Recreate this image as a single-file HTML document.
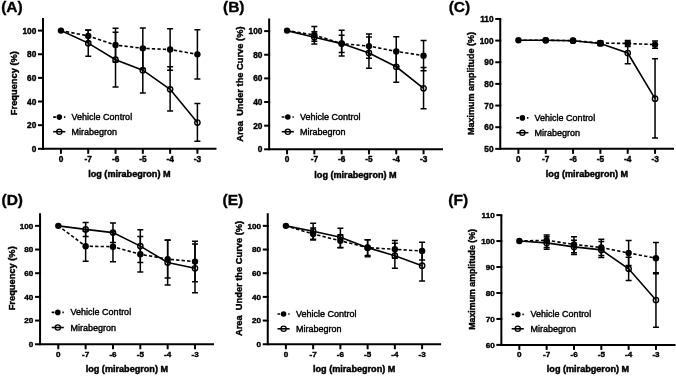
<!DOCTYPE html>
<html><head><meta charset="utf-8"><style>
html,body{margin:0;padding:0;background:#fff;}
svg{display:block;will-change:transform;}
text{font-family:"Liberation Sans", sans-serif;fill:#000;stroke:#000;stroke-width:0.3px;}
text.b{stroke-width:0.15px;}
</style></head><body>
<svg width="676" height="377" viewBox="0 0 676 377">
<rect width="676" height="377" fill="#fff"/>
<path d="M43 18.1V148.8H216.5" fill="none" stroke="#000" stroke-width="2.0" stroke-linecap="butt" stroke-linejoin="miter"/>
<path d="M38 148.8H44" stroke="#000" stroke-width="2.0"/>
<text x="36.3" y="151.79" font-size="8.3" font-weight="bold" text-anchor="end" style="stroke-width:0.4px">0</text>
<path d="M38 125.16H44" stroke="#000" stroke-width="2.0"/>
<text x="36.3" y="128.15" font-size="8.3" font-weight="bold" text-anchor="end" style="stroke-width:0.4px">20</text>
<path d="M38 101.52H44" stroke="#000" stroke-width="2.0"/>
<text x="36.3" y="104.51" font-size="8.3" font-weight="bold" text-anchor="end" style="stroke-width:0.4px">40</text>
<path d="M38 77.88H44" stroke="#000" stroke-width="2.0"/>
<text x="36.3" y="80.87" font-size="8.3" font-weight="bold" text-anchor="end" style="stroke-width:0.4px">60</text>
<path d="M38 54.24H44" stroke="#000" stroke-width="2.0"/>
<text x="36.3" y="57.23" font-size="8.3" font-weight="bold" text-anchor="end" style="stroke-width:0.4px">80</text>
<path d="M38 30.6H44" stroke="#000" stroke-width="2.0"/>
<text x="36.3" y="33.59" font-size="8.3" font-weight="bold" text-anchor="end" style="stroke-width:0.4px">100</text>
<path d="M60.95 148.8V153.8" stroke="#000" stroke-width="2.0"/>
<text x="60.95" y="162.3" font-size="8.3" font-weight="bold" text-anchor="middle" style="stroke-width:0.4px">0</text>
<path d="M88.24 148.8V153.8" stroke="#000" stroke-width="2.0"/>
<text x="88.29" y="162.3" font-size="8.3" font-weight="bold" text-anchor="middle" style="stroke-width:0.4px">-7</text>
<path d="M115.53 148.8V153.8" stroke="#000" stroke-width="2.0"/>
<text x="115.58" y="162.3" font-size="8.3" font-weight="bold" text-anchor="middle" style="stroke-width:0.4px">-6</text>
<path d="M142.82 148.8V153.8" stroke="#000" stroke-width="2.0"/>
<text x="142.87" y="162.3" font-size="8.3" font-weight="bold" text-anchor="middle" style="stroke-width:0.4px">-5</text>
<path d="M170.11 148.8V153.8" stroke="#000" stroke-width="2.0"/>
<text x="170.16" y="162.3" font-size="8.3" font-weight="bold" text-anchor="middle" style="stroke-width:0.4px">-4</text>
<path d="M197.4 148.8V153.8" stroke="#000" stroke-width="2.0"/>
<text x="197.45" y="162.3" font-size="8.3" font-weight="bold" text-anchor="middle" style="stroke-width:0.4px">-3</text>
<text x="88.2" y="177.1" font-size="9.1" font-weight="bold" style="stroke-width:0.45px">log (mirabegron) M</text>
<text transform="translate(16.9 83.1) rotate(-90)" x="0" y="0" font-size="9.3" font-weight="bold" text-anchor="middle" style="white-space:pre;stroke-width:0.4px">Frequency (%)</text>
<text x="1.2" y="11.5" font-size="15.5" font-weight="bold" style="stroke-width:0.35px">(A)</text>
<path d="M53.2 117.1H65.3" stroke="#000" stroke-width="1.6" stroke-dasharray="2.7 2.65"/>
<circle cx="59.3" cy="117.1" r="2.8" fill="#000"/>
<path d="M53.2 131.7H65.3" stroke="#000" stroke-width="1.6"/>
<circle cx="59.3" cy="131.7" r="2.6" fill="none" stroke="#000" stroke-width="1.3"/>
<text x="71.6" y="120.1" font-size="9" style="stroke-width:0.4px">Vehicle Control</text>
<text x="71.6" y="134.7" font-size="9" style="stroke-width:0.4px">Mirabegron</text>
<path d="M88.24 30.13V41.71M85.24 30.13H91.24M85.24 41.71H91.24" stroke="#000" stroke-width="1.5" fill="none"/>
<path d="M115.53 28.24V62.04M112.53 28.24H118.53M112.53 62.04H118.53" stroke="#000" stroke-width="1.5" fill="none"/>
<path d="M142.82 27.88V68.78M139.82 27.88H145.82M139.82 68.78H145.82" stroke="#000" stroke-width="1.5" fill="none"/>
<path d="M170.11 28.83V70.2M167.11 28.83H173.11M167.11 70.2H173.11" stroke="#000" stroke-width="1.5" fill="none"/>
<path d="M197.4 29.65V79.06M194.4 29.65H200.4M194.4 79.06H200.4" stroke="#000" stroke-width="1.5" fill="none"/>
<path d="M88.24 29.89V56.37M85.24 29.89H91.24M85.24 56.37H91.24" stroke="#000" stroke-width="1.5" fill="none"/>
<path d="M115.53 32.37V86.98M112.53 32.37H118.53M112.53 86.98H118.53" stroke="#000" stroke-width="1.5" fill="none"/>
<path d="M142.82 47.5V92.89M139.82 47.5H145.82M139.82 92.89H145.82" stroke="#000" stroke-width="1.5" fill="none"/>
<path d="M170.11 66.65V110.98M167.11 66.65H173.11M167.11 110.98H173.11" stroke="#000" stroke-width="1.5" fill="none"/>
<path d="M197.4 103.53V141.35M194.4 103.53H200.4M194.4 141.35H200.4" stroke="#000" stroke-width="1.5" fill="none"/>
<polyline points="60.95,30.6 88.24,35.92 115.53,45.02 142.82,48.33 170.11,49.51 197.4,54.36" fill="none" stroke="#000" stroke-width="1.6" stroke-dasharray="3.3 2.2" stroke-dashoffset="0.4"/>
<polyline points="60.95,30.6 88.24,43.13 115.53,59.68 142.82,70.2 170.11,89.35 197.4,122.56" fill="none" stroke="#000" stroke-width="1.6"/>
<circle cx="60.95" cy="30.6" r="3.2" fill="#000"/>
<circle cx="88.24" cy="35.92" r="3.2" fill="#000"/>
<circle cx="115.53" cy="45.02" r="3.2" fill="#000"/>
<circle cx="142.82" cy="48.33" r="3.2" fill="#000"/>
<circle cx="170.11" cy="49.51" r="3.2" fill="#000"/>
<circle cx="197.4" cy="54.36" r="3.2" fill="#000"/>
<circle cx="88.24" cy="43.13" r="2.6500000000000004" fill="none" stroke="#000" stroke-width="1.4"/>
<circle cx="115.53" cy="59.68" r="2.6500000000000004" fill="none" stroke="#000" stroke-width="1.4"/>
<circle cx="142.82" cy="70.2" r="2.6500000000000004" fill="none" stroke="#000" stroke-width="1.4"/>
<circle cx="170.11" cy="89.35" r="2.6500000000000004" fill="none" stroke="#000" stroke-width="1.4"/>
<circle cx="197.4" cy="122.56" r="2.6500000000000004" fill="none" stroke="#000" stroke-width="1.4"/>
<path d="M269.15 18.5V149.3H443" fill="none" stroke="#000" stroke-width="2.0" stroke-linecap="butt" stroke-linejoin="miter"/>
<path d="M264.15 149.3H270.15" stroke="#000" stroke-width="2.0"/>
<text x="262.45" y="152.29" font-size="8.3" font-weight="bold" text-anchor="end" style="stroke-width:0.4px">0</text>
<path d="M264.15 125.66H270.15" stroke="#000" stroke-width="2.0"/>
<text x="262.45" y="128.65" font-size="8.3" font-weight="bold" text-anchor="end" style="stroke-width:0.4px">20</text>
<path d="M264.15 102.02H270.15" stroke="#000" stroke-width="2.0"/>
<text x="262.45" y="105.01" font-size="8.3" font-weight="bold" text-anchor="end" style="stroke-width:0.4px">40</text>
<path d="M264.15 78.38H270.15" stroke="#000" stroke-width="2.0"/>
<text x="262.45" y="81.37" font-size="8.3" font-weight="bold" text-anchor="end" style="stroke-width:0.4px">60</text>
<path d="M264.15 54.74H270.15" stroke="#000" stroke-width="2.0"/>
<text x="262.45" y="57.73" font-size="8.3" font-weight="bold" text-anchor="end" style="stroke-width:0.4px">80</text>
<path d="M264.15 31.1H270.15" stroke="#000" stroke-width="2.0"/>
<text x="262.45" y="34.09" font-size="8.3" font-weight="bold" text-anchor="end" style="stroke-width:0.4px">100</text>
<path d="M287.05 149.3V154.3" stroke="#000" stroke-width="2.0"/>
<text x="287.05" y="162.3" font-size="8.3" font-weight="bold" text-anchor="middle" style="stroke-width:0.4px">0</text>
<path d="M314.35 149.3V154.3" stroke="#000" stroke-width="2.0"/>
<text x="314.4" y="162.3" font-size="8.3" font-weight="bold" text-anchor="middle" style="stroke-width:0.4px">-7</text>
<path d="M341.65 149.3V154.3" stroke="#000" stroke-width="2.0"/>
<text x="341.7" y="162.3" font-size="8.3" font-weight="bold" text-anchor="middle" style="stroke-width:0.4px">-6</text>
<path d="M368.95 149.3V154.3" stroke="#000" stroke-width="2.0"/>
<text x="369" y="162.3" font-size="8.3" font-weight="bold" text-anchor="middle" style="stroke-width:0.4px">-5</text>
<path d="M396.25 149.3V154.3" stroke="#000" stroke-width="2.0"/>
<text x="396.3" y="162.3" font-size="8.3" font-weight="bold" text-anchor="middle" style="stroke-width:0.4px">-4</text>
<path d="M423.55 149.3V154.3" stroke="#000" stroke-width="2.0"/>
<text x="423.6" y="162.3" font-size="8.3" font-weight="bold" text-anchor="middle" style="stroke-width:0.4px">-3</text>
<text x="314.3" y="177.9" font-size="9.1" font-weight="bold" style="stroke-width:0.45px">log (mirabegron) M</text>
<text transform="translate(243.3 84.1) rotate(-90)" x="0" y="0" font-size="9.3" font-weight="bold" text-anchor="middle" style="white-space:pre;stroke-width:0.4px">Area  Under the Curve (%)</text>
<text x="223" y="11.5" font-size="15.5" font-weight="bold" style="stroke-width:0.35px">(B)</text>
<path d="M281.7 117H293.8" stroke="#000" stroke-width="1.6" stroke-dasharray="2.7 2.65"/>
<circle cx="287.8" cy="117" r="2.8" fill="#000"/>
<path d="M281.7 131.7H293.8" stroke="#000" stroke-width="1.6"/>
<circle cx="287.8" cy="131.7" r="2.6" fill="none" stroke="#000" stroke-width="1.3"/>
<text x="299.9" y="120" font-size="9" style="stroke-width:0.4px">Vehicle Control</text>
<text x="299.9" y="134.7" font-size="9" style="stroke-width:0.4px">Mirabegron</text>
<path d="M314.35 26.46V43.96M311.35 26.46H317.35M311.35 43.96H317.35" stroke="#000" stroke-width="1.5" fill="none"/>
<path d="M341.65 30.25V56.01M338.65 30.25H344.65M338.65 56.01H344.65" stroke="#000" stroke-width="1.5" fill="none"/>
<path d="M368.95 33.91V58.26M365.95 33.91H371.95M365.95 58.26H371.95" stroke="#000" stroke-width="1.5" fill="none"/>
<path d="M396.25 36.63V66.18M393.25 36.63H399.25M393.25 66.18H399.25" stroke="#000" stroke-width="1.5" fill="none"/>
<path d="M423.55 40.53V70.79M420.55 40.53H426.55M420.55 70.79H426.55" stroke="#000" stroke-width="1.5" fill="none"/>
<path d="M314.35 31.78V41.24M311.35 31.78H317.35M311.35 41.24H317.35" stroke="#000" stroke-width="1.5" fill="none"/>
<path d="M341.65 35.33V52.47M338.65 35.33H344.65M338.65 52.47H344.65" stroke="#000" stroke-width="1.5" fill="none"/>
<path d="M368.95 37.1V68.19M365.95 37.1H371.95M365.95 68.19H371.95" stroke="#000" stroke-width="1.5" fill="none"/>
<path d="M396.25 51.4V82.25M393.25 51.4H399.25M393.25 82.25H399.25" stroke="#000" stroke-width="1.5" fill="none"/>
<path d="M423.55 67.48V108.85M420.55 67.48H426.55M420.55 108.85H426.55" stroke="#000" stroke-width="1.5" fill="none"/>
<polyline points="287.05,30.6 314.35,34.97 341.65,43.6 368.95,46.08 396.25,51.4 423.55,55.66" fill="none" stroke="#000" stroke-width="1.6" stroke-dasharray="3.3 2.2" stroke-dashoffset="0.4"/>
<polyline points="287.05,30.6 314.35,37.34 341.65,43.6 368.95,52.94 396.25,66.77 423.55,88.28" fill="none" stroke="#000" stroke-width="1.6"/>
<circle cx="287.05" cy="30.6" r="3.2" fill="#000"/>
<circle cx="314.35" cy="34.97" r="3.2" fill="#000"/>
<circle cx="341.65" cy="43.6" r="3.2" fill="#000"/>
<circle cx="368.95" cy="46.08" r="3.2" fill="#000"/>
<circle cx="396.25" cy="51.4" r="3.2" fill="#000"/>
<circle cx="423.55" cy="55.66" r="3.2" fill="#000"/>
<circle cx="314.35" cy="37.34" r="2.6500000000000004" fill="none" stroke="#000" stroke-width="1.4"/>
<circle cx="341.65" cy="43.6" r="2.6500000000000004" fill="none" stroke="#000" stroke-width="1.4"/>
<circle cx="368.95" cy="52.94" r="2.6500000000000004" fill="none" stroke="#000" stroke-width="1.4"/>
<circle cx="396.25" cy="66.77" r="2.6500000000000004" fill="none" stroke="#000" stroke-width="1.4"/>
<circle cx="423.55" cy="88.28" r="2.6500000000000004" fill="none" stroke="#000" stroke-width="1.4"/>
<path d="M500.25 18.95V148.85H674" fill="none" stroke="#000" stroke-width="2.0" stroke-linecap="butt" stroke-linejoin="miter"/>
<path d="M495.25 148.85H501.25" stroke="#000" stroke-width="2.0"/>
<text x="493.55" y="151.84" font-size="8.3" font-weight="bold" text-anchor="end" style="stroke-width:0.4px">50</text>
<path d="M495.25 127.2H501.25" stroke="#000" stroke-width="2.0"/>
<text x="493.55" y="130.19" font-size="8.3" font-weight="bold" text-anchor="end" style="stroke-width:0.4px">60</text>
<path d="M495.25 105.55H501.25" stroke="#000" stroke-width="2.0"/>
<text x="493.55" y="108.54" font-size="8.3" font-weight="bold" text-anchor="end" style="stroke-width:0.4px">70</text>
<path d="M495.25 83.9H501.25" stroke="#000" stroke-width="2.0"/>
<text x="493.55" y="86.89" font-size="8.3" font-weight="bold" text-anchor="end" style="stroke-width:0.4px">80</text>
<path d="M495.25 62.25H501.25" stroke="#000" stroke-width="2.0"/>
<text x="493.55" y="65.24" font-size="8.3" font-weight="bold" text-anchor="end" style="stroke-width:0.4px">90</text>
<path d="M495.25 40.6H501.25" stroke="#000" stroke-width="2.0"/>
<text x="493.55" y="43.59" font-size="8.3" font-weight="bold" text-anchor="end" style="stroke-width:0.4px">100</text>
<path d="M495.25 18.95H501.25" stroke="#000" stroke-width="2.0"/>
<text x="493.55" y="21.94" font-size="8.3" font-weight="bold" text-anchor="end" style="stroke-width:0.4px">110</text>
<path d="M518.4 148.85V153.85" stroke="#000" stroke-width="2.0"/>
<text x="518.4" y="162.3" font-size="8.3" font-weight="bold" text-anchor="middle" style="stroke-width:0.4px">0</text>
<path d="M545.73 148.85V153.85" stroke="#000" stroke-width="2.0"/>
<text x="545.78" y="162.3" font-size="8.3" font-weight="bold" text-anchor="middle" style="stroke-width:0.4px">-7</text>
<path d="M573.06 148.85V153.85" stroke="#000" stroke-width="2.0"/>
<text x="573.11" y="162.3" font-size="8.3" font-weight="bold" text-anchor="middle" style="stroke-width:0.4px">-6</text>
<path d="M600.39 148.85V153.85" stroke="#000" stroke-width="2.0"/>
<text x="600.44" y="162.3" font-size="8.3" font-weight="bold" text-anchor="middle" style="stroke-width:0.4px">-5</text>
<path d="M627.72 148.85V153.85" stroke="#000" stroke-width="2.0"/>
<text x="627.77" y="162.3" font-size="8.3" font-weight="bold" text-anchor="middle" style="stroke-width:0.4px">-4</text>
<path d="M655.05 148.85V153.85" stroke="#000" stroke-width="2.0"/>
<text x="655.1" y="162.3" font-size="8.3" font-weight="bold" text-anchor="middle" style="stroke-width:0.4px">-3</text>
<text x="545.8" y="177.1" font-size="9.1" font-weight="bold" style="stroke-width:0.45px">log (mirabegron) M</text>
<text transform="translate(474.4 83.5) rotate(-90)" x="0" y="0" font-size="9.0" font-weight="bold" text-anchor="middle" style="white-space:pre;stroke-width:0.4px">Maximum amplitude (%)</text>
<text x="448.7" y="11.5" font-size="15.5" font-weight="bold" style="stroke-width:0.35px">(C)</text>
<path d="M516.3 117.9H528.4" stroke="#000" stroke-width="1.6" stroke-dasharray="2.7 2.65"/>
<circle cx="522.4" cy="117.9" r="2.8" fill="#000"/>
<path d="M516.3 132.7H528.4" stroke="#000" stroke-width="1.6"/>
<circle cx="522.4" cy="132.7" r="2.6" fill="none" stroke="#000" stroke-width="1.3"/>
<text x="534.6" y="120.9" font-size="9" style="stroke-width:0.4px">Vehicle Control</text>
<text x="534.6" y="135.7" font-size="9" style="stroke-width:0.4px">Mirabegron</text>
<path d="M600.39 41.12V45.01M597.39 41.12H603.39M597.39 45.01H603.39" stroke="#000" stroke-width="1.5" fill="none"/>
<path d="M627.72 40.47V46.53M624.72 40.47H630.72M624.72 46.53H630.72" stroke="#000" stroke-width="1.5" fill="none"/>
<path d="M655.05 40.9V48.26M652.05 40.9H658.05M652.05 48.26H658.05" stroke="#000" stroke-width="1.5" fill="none"/>
<path d="M600.39 41.55V45.45M597.39 41.55H603.39M597.39 45.45H603.39" stroke="#000" stroke-width="1.5" fill="none"/>
<path d="M627.72 42.41V63.63M624.72 42.41H630.72M624.72 63.63H630.72" stroke="#000" stroke-width="1.5" fill="none"/>
<path d="M655.05 58.87V138.11M652.05 58.87H658.05M652.05 138.11H658.05" stroke="#000" stroke-width="1.5" fill="none"/>
<polyline points="518.4,40.25 545.73,40.25 573.06,40.68 600.39,43.06 627.72,43.5 655.05,44.58" fill="none" stroke="#000" stroke-width="1.6" stroke-dasharray="3.3 2.2" stroke-dashoffset="0.4"/>
<polyline points="518.4,40.25 545.73,40.25 573.06,40.68 600.39,43.5 627.72,53.02 655.05,98.7" fill="none" stroke="#000" stroke-width="1.6"/>
<circle cx="518.4" cy="40.25" r="3.2" fill="#000"/>
<circle cx="545.73" cy="40.25" r="3.2" fill="#000"/>
<circle cx="573.06" cy="40.68" r="3.2" fill="#000"/>
<circle cx="600.39" cy="43.06" r="3.2" fill="#000"/>
<circle cx="627.72" cy="43.5" r="3.2" fill="#000"/>
<circle cx="655.05" cy="44.58" r="3.2" fill="#000"/>
<circle cx="545.73" cy="40.25" r="2.6500000000000004" fill="none" stroke="#000" stroke-width="1.4"/>
<circle cx="573.06" cy="40.68" r="2.6500000000000004" fill="none" stroke="#000" stroke-width="1.4"/>
<circle cx="600.39" cy="43.5" r="2.6500000000000004" fill="none" stroke="#000" stroke-width="1.4"/>
<circle cx="627.72" cy="53.02" r="2.6500000000000004" fill="none" stroke="#000" stroke-width="1.4"/>
<circle cx="655.05" cy="98.7" r="2.6500000000000004" fill="none" stroke="#000" stroke-width="1.4"/>
<path d="M40.05 213.3V344.25H214" fill="none" stroke="#000" stroke-width="2.0" stroke-linecap="butt" stroke-linejoin="miter"/>
<path d="M35.05 344.25H41.05" stroke="#000" stroke-width="2.0"/>
<text x="33.35" y="347.17" font-size="8.1" font-weight="bold" text-anchor="end" style="stroke-width:0.4px">0</text>
<path d="M35.05 320.57H41.05" stroke="#000" stroke-width="2.0"/>
<text x="33.35" y="323.49" font-size="8.1" font-weight="bold" text-anchor="end" style="stroke-width:0.4px">20</text>
<path d="M35.05 296.89H41.05" stroke="#000" stroke-width="2.0"/>
<text x="33.35" y="299.81" font-size="8.1" font-weight="bold" text-anchor="end" style="stroke-width:0.4px">40</text>
<path d="M35.05 273.21H41.05" stroke="#000" stroke-width="2.0"/>
<text x="33.35" y="276.13" font-size="8.1" font-weight="bold" text-anchor="end" style="stroke-width:0.4px">60</text>
<path d="M35.05 249.53H41.05" stroke="#000" stroke-width="2.0"/>
<text x="33.35" y="252.45" font-size="8.1" font-weight="bold" text-anchor="end" style="stroke-width:0.4px">80</text>
<path d="M35.05 225.85H41.05" stroke="#000" stroke-width="2.0"/>
<text x="33.35" y="228.77" font-size="8.1" font-weight="bold" text-anchor="end" style="stroke-width:0.4px">100</text>
<path d="M58.3 344.25V349.25" stroke="#000" stroke-width="2.0"/>
<text x="58.3" y="357.4" font-size="8.1" font-weight="bold" text-anchor="middle" style="stroke-width:0.4px">0</text>
<path d="M85.64 344.25V349.25" stroke="#000" stroke-width="2.0"/>
<text x="85.69" y="357.4" font-size="8.1" font-weight="bold" text-anchor="middle" style="stroke-width:0.4px">-7</text>
<path d="M112.98 344.25V349.25" stroke="#000" stroke-width="2.0"/>
<text x="113.03" y="357.4" font-size="8.1" font-weight="bold" text-anchor="middle" style="stroke-width:0.4px">-6</text>
<path d="M140.32 344.25V349.25" stroke="#000" stroke-width="2.0"/>
<text x="140.37" y="357.4" font-size="8.1" font-weight="bold" text-anchor="middle" style="stroke-width:0.4px">-5</text>
<path d="M167.66 344.25V349.25" stroke="#000" stroke-width="2.0"/>
<text x="167.71" y="357.4" font-size="8.1" font-weight="bold" text-anchor="middle" style="stroke-width:0.4px">-4</text>
<path d="M195 344.25V349.25" stroke="#000" stroke-width="2.0"/>
<text x="195.05" y="357.4" font-size="8.1" font-weight="bold" text-anchor="middle" style="stroke-width:0.4px">-3</text>
<text x="85.7" y="371.5" font-size="9.1" font-weight="bold" style="stroke-width:0.45px">log (mirabegron) M</text>
<text transform="translate(14.5 278.3) rotate(-90)" x="0" y="0" font-size="9.3" font-weight="bold" text-anchor="middle" style="white-space:pre;stroke-width:0.4px">Frequency (%)</text>
<text x="1.5" y="205.3" font-size="15.5" font-weight="bold" style="stroke-width:0.35px">(D)</text>
<path d="M51.7 312.4H63.8" stroke="#000" stroke-width="1.6" stroke-dasharray="2.7 2.65"/>
<circle cx="57.8" cy="312.4" r="2.8" fill="#000"/>
<path d="M51.7 327.5H63.8" stroke="#000" stroke-width="1.6"/>
<circle cx="57.8" cy="327.5" r="2.6" fill="none" stroke="#000" stroke-width="1.3"/>
<text x="70.6" y="315.4" font-size="9" style="stroke-width:0.4px">Vehicle Control</text>
<text x="70.6" y="330.5" font-size="9" style="stroke-width:0.4px">Mirabegron</text>
<path d="M85.64 231.18V261.25M82.64 231.18H88.64M82.64 261.25H88.64" stroke="#000" stroke-width="1.5" fill="none"/>
<path d="M112.98 231.65V261.73M109.98 231.65H115.98M109.98 261.73H115.98" stroke="#000" stroke-width="1.5" fill="none"/>
<path d="M140.32 236.51V272.03M137.32 236.51H143.32M137.32 272.03H143.32" stroke="#000" stroke-width="1.5" fill="none"/>
<path d="M167.66 240.18V278.06M164.66 240.18H170.66M164.66 278.06H170.66" stroke="#000" stroke-width="1.5" fill="none"/>
<path d="M195 241.36V281.85M192 241.36H198M192 281.85H198" stroke="#000" stroke-width="1.5" fill="none"/>
<path d="M85.64 222.42V236.39M82.64 222.42H88.64M82.64 236.39H88.64" stroke="#000" stroke-width="1.5" fill="none"/>
<path d="M112.98 222.89V242.43M109.98 222.89H115.98M109.98 242.43H115.98" stroke="#000" stroke-width="1.5" fill="none"/>
<path d="M140.32 229.76V262.44M137.32 229.76H143.32M137.32 262.44H143.32" stroke="#000" stroke-width="1.5" fill="none"/>
<path d="M167.66 240.06V285.05M164.66 240.06H170.66M164.66 285.05H170.66" stroke="#000" stroke-width="1.5" fill="none"/>
<path d="M195 244.08V292.63M192 244.08H198M192 292.63H198" stroke="#000" stroke-width="1.5" fill="none"/>
<polyline points="58.3,225.85 85.64,246.21 112.98,246.69 140.32,254.27 167.66,259.12 195,261.61" fill="none" stroke="#000" stroke-width="1.6" stroke-dasharray="3.3 2.2" stroke-dashoffset="0.4"/>
<polyline points="58.3,225.85 85.64,229.4 112.98,232.6 140.32,246.1 167.66,262.55 195,268.24" fill="none" stroke="#000" stroke-width="1.6"/>
<circle cx="58.3" cy="225.85" r="3.2" fill="#000"/>
<circle cx="85.64" cy="246.21" r="3.2" fill="#000"/>
<circle cx="112.98" cy="246.69" r="3.2" fill="#000"/>
<circle cx="140.32" cy="254.27" r="3.2" fill="#000"/>
<circle cx="167.66" cy="259.12" r="3.2" fill="#000"/>
<circle cx="195" cy="261.61" r="3.2" fill="#000"/>
<circle cx="85.64" cy="229.4" r="2.6500000000000004" fill="none" stroke="#000" stroke-width="1.4"/>
<circle cx="112.98" cy="232.6" r="2.6500000000000004" fill="none" stroke="#000" stroke-width="1.4"/>
<circle cx="140.32" cy="246.1" r="2.6500000000000004" fill="none" stroke="#000" stroke-width="1.4"/>
<circle cx="167.66" cy="262.55" r="2.6500000000000004" fill="none" stroke="#000" stroke-width="1.4"/>
<circle cx="195" cy="268.24" r="2.6500000000000004" fill="none" stroke="#000" stroke-width="1.4"/>
<path d="M267.75 213.3V344.25H441.1" fill="none" stroke="#000" stroke-width="2.0" stroke-linecap="butt" stroke-linejoin="miter"/>
<path d="M262.75 344.25H268.75" stroke="#000" stroke-width="2.0"/>
<text x="261.05" y="347.17" font-size="8.1" font-weight="bold" text-anchor="end" style="stroke-width:0.4px">0</text>
<path d="M262.75 320.57H268.75" stroke="#000" stroke-width="2.0"/>
<text x="261.05" y="323.49" font-size="8.1" font-weight="bold" text-anchor="end" style="stroke-width:0.4px">20</text>
<path d="M262.75 296.89H268.75" stroke="#000" stroke-width="2.0"/>
<text x="261.05" y="299.81" font-size="8.1" font-weight="bold" text-anchor="end" style="stroke-width:0.4px">40</text>
<path d="M262.75 273.21H268.75" stroke="#000" stroke-width="2.0"/>
<text x="261.05" y="276.13" font-size="8.1" font-weight="bold" text-anchor="end" style="stroke-width:0.4px">60</text>
<path d="M262.75 249.53H268.75" stroke="#000" stroke-width="2.0"/>
<text x="261.05" y="252.45" font-size="8.1" font-weight="bold" text-anchor="end" style="stroke-width:0.4px">80</text>
<path d="M262.75 225.85H268.75" stroke="#000" stroke-width="2.0"/>
<text x="261.05" y="228.77" font-size="8.1" font-weight="bold" text-anchor="end" style="stroke-width:0.4px">100</text>
<path d="M285.9 344.25V349.25" stroke="#000" stroke-width="2.0"/>
<text x="285.9" y="357.4" font-size="8.1" font-weight="bold" text-anchor="middle" style="stroke-width:0.4px">0</text>
<path d="M313.14 344.25V349.25" stroke="#000" stroke-width="2.0"/>
<text x="313.19" y="357.4" font-size="8.1" font-weight="bold" text-anchor="middle" style="stroke-width:0.4px">-7</text>
<path d="M340.38 344.25V349.25" stroke="#000" stroke-width="2.0"/>
<text x="340.43" y="357.4" font-size="8.1" font-weight="bold" text-anchor="middle" style="stroke-width:0.4px">-6</text>
<path d="M367.62 344.25V349.25" stroke="#000" stroke-width="2.0"/>
<text x="367.67" y="357.4" font-size="8.1" font-weight="bold" text-anchor="middle" style="stroke-width:0.4px">-5</text>
<path d="M394.86 344.25V349.25" stroke="#000" stroke-width="2.0"/>
<text x="394.91" y="357.4" font-size="8.1" font-weight="bold" text-anchor="middle" style="stroke-width:0.4px">-4</text>
<path d="M422.1 344.25V349.25" stroke="#000" stroke-width="2.0"/>
<text x="422.15" y="357.4" font-size="8.1" font-weight="bold" text-anchor="middle" style="stroke-width:0.4px">-3</text>
<text x="313" y="371.5" font-size="9.1" font-weight="bold" style="stroke-width:0.45px">log (mirabegron) M</text>
<text transform="translate(242.2 278.4) rotate(-90)" x="0" y="0" font-size="9.3" font-weight="bold" text-anchor="middle" style="white-space:pre;stroke-width:0.4px">Area  Under the Curve (%)</text>
<text x="222.5" y="205.3" font-size="15.5" font-weight="bold" style="stroke-width:0.35px">(E)</text>
<path d="M277.5 314H289.6" stroke="#000" stroke-width="1.6" stroke-dasharray="2.7 2.65"/>
<circle cx="283.6" cy="314" r="2.8" fill="#000"/>
<path d="M277.5 328.8H289.6" stroke="#000" stroke-width="1.6"/>
<circle cx="283.6" cy="328.8" r="2.6" fill="none" stroke="#000" stroke-width="1.3"/>
<text x="295.9" y="317" font-size="9" style="stroke-width:0.4px">Vehicle Control</text>
<text x="295.9" y="331.8" font-size="9" style="stroke-width:0.4px">Mirabegron</text>
<path d="M313.14 228.1V239.94M310.14 228.1H316.14M310.14 239.94H316.14" stroke="#000" stroke-width="1.5" fill="none"/>
<path d="M340.38 234.85V247.4M337.38 234.85H343.38M337.38 247.4H343.38" stroke="#000" stroke-width="1.5" fill="none"/>
<path d="M367.62 239.7V255.57M364.62 239.7H370.62M364.62 255.57H370.62" stroke="#000" stroke-width="1.5" fill="none"/>
<path d="M394.86 240.41V258.17M391.86 240.41H397.86M391.86 258.17H397.86" stroke="#000" stroke-width="1.5" fill="none"/>
<path d="M422.1 242.19V259.95M419.1 242.19H425.1M419.1 259.95H425.1" stroke="#000" stroke-width="1.5" fill="none"/>
<path d="M313.14 223.36V239.23M310.14 223.36H316.14M310.14 239.23H316.14" stroke="#000" stroke-width="1.5" fill="none"/>
<path d="M340.38 228.22V247.64M337.38 228.22H343.38M337.38 247.64H343.38" stroke="#000" stroke-width="1.5" fill="none"/>
<path d="M367.62 239.7V256.87M364.62 239.7H370.62M364.62 256.87H370.62" stroke="#000" stroke-width="1.5" fill="none"/>
<path d="M394.86 243.14V268.24M391.86 243.14H397.86M391.86 268.24H397.86" stroke="#000" stroke-width="1.5" fill="none"/>
<path d="M422.1 250.36V280.91M419.1 250.36H425.1M419.1 280.91H425.1" stroke="#000" stroke-width="1.5" fill="none"/>
<polyline points="285.9,225.85 313.14,234.02 340.38,240.77 367.62,247.64 394.86,249.29 422.1,251.07" fill="none" stroke="#000" stroke-width="1.6" stroke-dasharray="3.3 2.2" stroke-dashoffset="0.4"/>
<polyline points="285.9,225.85 313.14,231.3 340.38,237.22 367.62,247.64 394.86,255.69 422.1,265.63" fill="none" stroke="#000" stroke-width="1.6"/>
<circle cx="285.9" cy="225.85" r="3.2" fill="#000"/>
<circle cx="313.14" cy="234.02" r="3.2" fill="#000"/>
<circle cx="340.38" cy="240.77" r="3.2" fill="#000"/>
<circle cx="367.62" cy="247.64" r="3.2" fill="#000"/>
<circle cx="394.86" cy="249.29" r="3.2" fill="#000"/>
<circle cx="422.1" cy="251.07" r="3.2" fill="#000"/>
<circle cx="313.14" cy="231.3" r="2.6500000000000004" fill="none" stroke="#000" stroke-width="1.4"/>
<circle cx="340.38" cy="237.22" r="2.6500000000000004" fill="none" stroke="#000" stroke-width="1.4"/>
<circle cx="367.62" cy="247.64" r="2.6500000000000004" fill="none" stroke="#000" stroke-width="1.4"/>
<circle cx="394.86" cy="255.69" r="2.6500000000000004" fill="none" stroke="#000" stroke-width="1.4"/>
<circle cx="422.1" cy="265.63" r="2.6500000000000004" fill="none" stroke="#000" stroke-width="1.4"/>
<path d="M501.35 215.1V344.9H675.5" fill="none" stroke="#000" stroke-width="2.0" stroke-linecap="butt" stroke-linejoin="miter"/>
<path d="M496.35 344.9H502.35" stroke="#000" stroke-width="2.0"/>
<text x="494.65" y="347.82" font-size="8.1" font-weight="bold" text-anchor="end" style="stroke-width:0.4px">60</text>
<path d="M496.35 318.94H502.35" stroke="#000" stroke-width="2.0"/>
<text x="494.65" y="321.86" font-size="8.1" font-weight="bold" text-anchor="end" style="stroke-width:0.4px">70</text>
<path d="M496.35 292.98H502.35" stroke="#000" stroke-width="2.0"/>
<text x="494.65" y="295.9" font-size="8.1" font-weight="bold" text-anchor="end" style="stroke-width:0.4px">80</text>
<path d="M496.35 267.02H502.35" stroke="#000" stroke-width="2.0"/>
<text x="494.65" y="269.94" font-size="8.1" font-weight="bold" text-anchor="end" style="stroke-width:0.4px">90</text>
<path d="M496.35 241.06H502.35" stroke="#000" stroke-width="2.0"/>
<text x="494.65" y="243.98" font-size="8.1" font-weight="bold" text-anchor="end" style="stroke-width:0.4px">100</text>
<path d="M496.35 215.1H502.35" stroke="#000" stroke-width="2.0"/>
<text x="494.65" y="218.02" font-size="8.1" font-weight="bold" text-anchor="end" style="stroke-width:0.4px">110</text>
<path d="M519.35 344.9V349.9" stroke="#000" stroke-width="2.0"/>
<text x="519.35" y="357.4" font-size="8.1" font-weight="bold" text-anchor="middle" style="stroke-width:0.4px">0</text>
<path d="M546.67 344.9V349.9" stroke="#000" stroke-width="2.0"/>
<text x="546.72" y="357.4" font-size="8.1" font-weight="bold" text-anchor="middle" style="stroke-width:0.4px">-7</text>
<path d="M573.99 344.9V349.9" stroke="#000" stroke-width="2.0"/>
<text x="574.04" y="357.4" font-size="8.1" font-weight="bold" text-anchor="middle" style="stroke-width:0.4px">-6</text>
<path d="M601.31 344.9V349.9" stroke="#000" stroke-width="2.0"/>
<text x="601.36" y="357.4" font-size="8.1" font-weight="bold" text-anchor="middle" style="stroke-width:0.4px">-5</text>
<path d="M628.63 344.9V349.9" stroke="#000" stroke-width="2.0"/>
<text x="628.68" y="357.4" font-size="8.1" font-weight="bold" text-anchor="middle" style="stroke-width:0.4px">-4</text>
<path d="M655.95 344.9V349.9" stroke="#000" stroke-width="2.0"/>
<text x="656" y="357.4" font-size="8.1" font-weight="bold" text-anchor="middle" style="stroke-width:0.4px">-3</text>
<text x="546.8" y="372.2" font-size="9.1" font-weight="bold" style="stroke-width:0.45px">log (mirabgeron) M</text>
<text transform="translate(475.4 279.4) rotate(-90)" x="0" y="0" font-size="8.8" font-weight="bold" text-anchor="middle" style="white-space:pre;stroke-width:0.4px">Maximum amplitude (%)</text>
<text x="448.3" y="205.3" font-size="15.5" font-weight="bold" style="stroke-width:0.35px">(F)</text>
<path d="M511.7 314.4H523.8" stroke="#000" stroke-width="1.6" stroke-dasharray="2.7 2.65"/>
<circle cx="517.8" cy="314.4" r="2.8" fill="#000"/>
<path d="M511.7 328.8H523.8" stroke="#000" stroke-width="1.6"/>
<circle cx="517.8" cy="328.8" r="2.6" fill="none" stroke="#000" stroke-width="1.3"/>
<text x="530.6" y="317.4" font-size="9" style="stroke-width:0.4px">Vehicle Control</text>
<text x="530.6" y="331.8" font-size="9" style="stroke-width:0.4px">Mirabegron</text>
<path d="M546.67 235.09V247.55M543.67 235.09H549.67M543.67 247.55H549.67" stroke="#000" stroke-width="1.5" fill="none"/>
<path d="M573.99 236.78V252.74M570.99 236.78H576.99M570.99 252.74H576.99" stroke="#000" stroke-width="1.5" fill="none"/>
<path d="M601.31 239.24V255.6M598.31 239.24H604.31M598.31 255.6H604.31" stroke="#000" stroke-width="1.5" fill="none"/>
<path d="M628.63 240.54V265.46M625.63 240.54H631.63M625.63 265.46H631.63" stroke="#000" stroke-width="1.5" fill="none"/>
<path d="M655.95 242.62V273.77M652.95 242.62H658.95M652.95 273.77H658.95" stroke="#000" stroke-width="1.5" fill="none"/>
<path d="M546.67 236.78V249.37M543.67 236.78H549.67M543.67 249.37H549.67" stroke="#000" stroke-width="1.5" fill="none"/>
<path d="M573.99 240.28V254.56M570.99 240.28H576.99M570.99 254.56H576.99" stroke="#000" stroke-width="1.5" fill="none"/>
<path d="M601.31 241.58V257.54M598.31 241.58H604.31M598.31 257.54H604.31" stroke="#000" stroke-width="1.5" fill="none"/>
<path d="M628.63 257.16V280.52M625.63 257.16H631.63M625.63 280.52H631.63" stroke="#000" stroke-width="1.5" fill="none"/>
<path d="M655.95 272.73V327.25M652.95 272.73H658.95M652.95 327.25H658.95" stroke="#000" stroke-width="1.5" fill="none"/>
<polyline points="519.35,241.06 546.67,240.28 573.99,244.43 601.31,247.55 628.63,253 655.95,258.19" fill="none" stroke="#000" stroke-width="1.6" stroke-dasharray="3.3 2.2" stroke-dashoffset="0.4"/>
<polyline points="519.35,241.06 546.67,242.88 573.99,246.9 601.31,249.89 628.63,268.84 655.95,299.99" fill="none" stroke="#000" stroke-width="1.6"/>
<circle cx="519.35" cy="241.06" r="3.2" fill="#000"/>
<circle cx="546.67" cy="240.28" r="3.2" fill="#000"/>
<circle cx="573.99" cy="244.43" r="3.2" fill="#000"/>
<circle cx="601.31" cy="247.55" r="3.2" fill="#000"/>
<circle cx="628.63" cy="253" r="3.2" fill="#000"/>
<circle cx="655.95" cy="258.19" r="3.2" fill="#000"/>
<circle cx="546.67" cy="242.88" r="2.6500000000000004" fill="none" stroke="#000" stroke-width="1.4"/>
<circle cx="573.99" cy="246.9" r="2.6500000000000004" fill="none" stroke="#000" stroke-width="1.4"/>
<circle cx="601.31" cy="249.89" r="2.6500000000000004" fill="none" stroke="#000" stroke-width="1.4"/>
<circle cx="628.63" cy="268.84" r="2.6500000000000004" fill="none" stroke="#000" stroke-width="1.4"/>
<circle cx="655.95" cy="299.99" r="2.6500000000000004" fill="none" stroke="#000" stroke-width="1.4"/>
</svg>
</body></html>
